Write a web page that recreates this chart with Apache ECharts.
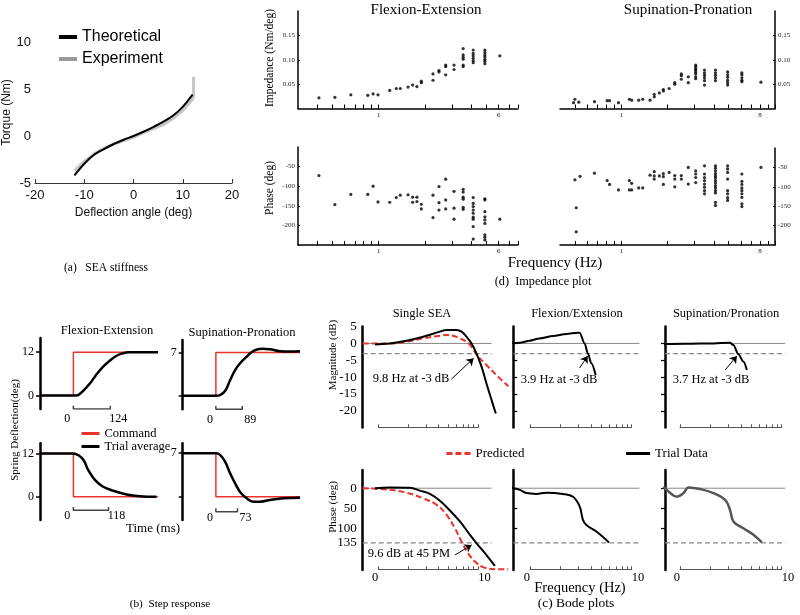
<!DOCTYPE html>
<html>
<head>
<meta charset="utf-8">
<script src="https://cdn.jsdelivr.net/npm/echarts@6.0.0/dist/echarts.min.js"></script>
<style>
html, body { margin: 0; padding: 0; background: #fff; }
#chart { width: 800px; height: 615px; }
</style>
</head>
<body>
<div id="chart"></div>
<script>
const SERIF = "'Liberation Serif','Times New Roman',serif";
const SANS = "'Liberation Sans',Arial,sans-serif";
const RED = '#e8342c';

// ---------- (a) SEA stiffness ----------
const stiffAngle = [-12, -10, -8, -6, -4, -2, 0, 2, 4, 6, 8, 10, 12];
const torqueTheory = [-4.2, -2.95, -2.0, -1.4, -0.85, -0.4, 0, 0.45, 0.95, 1.5, 2.15, 3.1, 4.4];
const expAngle = [-12, -10, -8, -6, -4, -2, 0, 2, 4, 6, 8, 10, 12, 12.2, 12.2];
const torqueExp = [-3.7, -2.7, -1.9, -1.3, -0.85, -0.5, -0.15, 0.35, 0.75, 1.2, 1.85, 2.7, 3.9, 4.2, 6.3];

// ---------- (d) impedance plot, [Hz, value] ----------
const feImpedance = [
  [0.41, 0.022], [0.52, 0.023], [0.66, 0.028], [0.85, 0.027], [0.92, 0.030], [0.99, 0.028],
  [1.18, 0.037], [1.30, 0.041], [1.38, 0.041], [1.55, 0.044], [1.66, 0.048], [1.77, 0.045],
  [1.89, 0.053], [1.89, 0.056], [2.25, 0.058], [2.25, 0.071], [2.46, 0.075], [2.46, 0.078],
  [2.72, 0.069], [2.72, 0.086], [2.72, 0.089], [3.08, 0.080], [3.08, 0.089],
  [3.53, 0.123], [3.53, 0.110], [3.53, 0.105], [3.53, 0.101], [3.53, 0.089], [3.53, 0.086],
  [4.10, 0.120], [4.10, 0.113], [4.10, 0.108], [4.10, 0.103], [4.10, 0.098], [4.10, 0.094],
  [4.88, 0.120], [4.88, 0.115], [4.88, 0.110], [4.88, 0.106], [4.88, 0.101], [4.88, 0.097], [4.88, 0.092],
  [6.10, 0.108]
];
const fePhaseImp = [
  [0.41, -73], [0.52, -147], [0.66, -121], [0.85, -121], [0.92, -100], [0.99, -140],
  [1.18, -141], [1.30, -129], [1.38, -123], [1.55, -122], [1.66, -141], [1.66, -128],
  [1.77, -128], [1.77, -139], [1.89, -146], [1.89, -158], [2.25, -123], [2.25, -180],
  [2.46, -101], [2.46, -142], [2.46, -161], [2.72, -82], [2.72, -135], [2.72, -158],
  [3.08, -113], [3.08, -156], [3.08, -184],
  [3.53, -108], [3.53, -115], [3.53, -128], [3.53, -133], [3.53, -154], [3.53, -159],
  [4.10, -129], [4.10, -144], [4.10, -152], [4.10, -161], [4.10, -169], [4.10, -179], [4.10, -184], [4.10, -203], [4.10, -235],
  [4.88, -132], [4.88, -135], [4.88, -165], [4.88, -178], [4.88, -186], [4.88, -195], [4.88, -224], [4.88, -230], [4.88, -237],
  [6.10, -184]
];
const spImpedance = [
  [0.50, 0.019], [0.49, 0.012], [0.53, 0.013], [0.67, 0.014], [0.81, 0.016], [0.84, 0.016],
  [0.96, 0.012], [1.13, 0.019], [1.17, 0.017], [1.30, 0.017], [1.38, 0.019], [1.54, 0.017],
  [1.64, 0.024], [1.64, 0.029], [1.77, 0.032], [1.88, 0.036], [1.88, 0.039], [2.05, 0.041],
  [2.23, 0.050], [2.23, 0.053], [2.46, 0.060], [2.46, 0.067], [2.46, 0.071], [2.73, 0.053], [2.73, 0.065],
  [3.05, 0.089], [3.05, 0.086], [3.05, 0.082], [3.05, 0.079], [3.05, 0.075], [3.05, 0.071], [3.05, 0.065], [3.05, 0.061],
  [3.48, 0.079], [3.48, 0.073], [3.48, 0.068], [3.48, 0.063], [3.48, 0.057], [3.48, 0.048],
  [4.10, 0.079], [4.10, 0.073], [4.10, 0.068], [4.10, 0.063], [4.10, 0.057],
  [4.92, 0.075], [4.92, 0.069], [4.92, 0.064], [4.92, 0.058], [4.92, 0.053], [4.92, 0.048],
  [6.09, 0.073], [6.09, 0.069], [6.09, 0.063], [6.09, 0.058], [6.09, 0.055],
  [8.10, 0.054]
];
const spPhaseImp = [
  [0.50, -82], [0.54, -73], [0.51, -154], [0.51, -216], [0.67, -65], [0.81, -84], [0.84, -94],
  [0.96, -108], [1.13, -84], [1.13, -108], [1.17, -91], [1.17, -108], [1.30, -103], [1.38, -103],
  [1.54, -70], [1.64, -61], [1.64, -72], [1.64, -80], [1.77, -72], [1.88, -66], [1.88, -74], [1.88, -94],
  [2.05, -63], [2.23, -71], [2.23, -80], [2.23, -100], [2.46, -71], [2.46, -80], [2.73, -50], [2.73, -93],
  [3.05, -59], [3.05, -67], [3.05, -76], [3.05, -89],
  [3.48, -46], [3.48, -67], [3.48, -76], [3.48, -84], [3.48, -93], [3.48, -101], [3.48, -110], [3.48, -118],
  [4.10, -46], [4.10, -52], [4.10, -59], [4.10, -66], [4.10, -72], [4.10, -77], [4.10, -84], [4.10, -90],
  [4.10, -97], [4.10, -103], [4.10, -110], [4.10, -116], [4.10, -140], [4.10, -148],
  [4.92, -46], [4.92, -54], [4.92, -63], [4.92, -80], [4.92, -110], [4.92, -118], [4.92, -128], [4.92, -135],
  [6.09, -67], [6.09, -86], [6.09, -94], [6.09, -103], [6.09, -110], [6.09, -118], [6.09, -127], [6.09, -144], [6.09, -151],
  [8.10, -50]
];
const feFreqTicks = [0.4, 0.5, 0.6, 0.7, 0.8, 0.9, 1, 2, 3, 4, 5, 6, 7, 8];
const feFreqLabels = [1, 6];
const spFreqTicks = [0.5, 0.6, 0.7, 0.8, 0.9, 1, 2, 3, 4, 5, 6, 7, 8, 9, 10];
const spFreqLabels = [1, 8];
const impTicks = [0.05, 0.10, 0.15];
const impPhaseTicks = [-200, -150, -100, -50];

// ---------- (b) step response (time in ms, deflection in deg) ----------
const cmdTime = [-112, 0, 0, 284];
const feUpCmd = [0, 0, 12, 12];
const spUpCmd = [0, 0, 7, 7];
const feDownCmd = [12, 12, 0, 0];
const spDownCmd = [7, 7, 0, 0];
const feUpTime = [-112, 0, 10, 17, 33, 56, 78, 100, 123, 145, 167, 185, 284];
const feUpDefl = [0, 0, 0.05, 0.2, 1.3, 3.4, 5.9, 8.0, 9.7, 11.0, 11.7, 12, 12];
const spUpTime = [-112, 0, 14, 31, 48, 65, 81, 104, 127, 155, 183, 217, 251, 284];
const spUpDefl = [0, 0, 0.1, 0.75, 2.5, 4.15, 5.2, 6.3, 7.25, 7.6, 7.5, 7.2, 7.15, 7.2];
const feDownTime = [-112, 0, 17, 34, 50, 73, 100, 134, 179, 223, 279];
const feDownDefl = [12, 12, 11.5, 10.2, 7.4, 4.6, 2.8, 1.7, 0.65, 0.18, 0];
const spDownTime = [-112, 0, 14, 31, 48, 65, 81, 104, 127, 149, 183, 228, 284];
const spDownDefl = [7, 7, 6.73, 5.65, 3.77, 2.15, 0.81, -0.27, -0.81, -0.81, -0.54, -0.27, -0.16];
const riseTimes = [124, 89, 118, 73];

// ---------- (c) Bode plots ----------
const seaTrialFreq = [0.93, 1.31, 1.92, 2.82, 4.14, 4.83, 6.08, 6.82, 7.65, 8.58, 9.63, 10.8, 12.1, 13.6, 15.0];
const seaTrialMag = [-0.3, 0, 0.8, 2.0, 3.5, 4.0, 4.0, 3.5, 2.0, 0, -3.0, -6.9, -11.9, -16.8, -20.8];
const seaPredFreq = [0.70, 1.31, 1.92, 2.82, 4.14, 4.83, 5.62, 6.56, 7.65, 8.58, 9.63, 12.1, 15.2, 20];
const seaPredMag = [0, 0, 0.5, 1.5, 2.3, 2.5, 2.3, 1.5, 0.5, -1.0, -3.3, -6.4, -9.4, -12.7];
const feMagFreq = [0.49, 0.59, 0.685, 0.80, 1.0, 1.25, 1.70, 2.29, 2.99, 3.10, 3.47, 3.74, 4.04, 4.46];
const feMag = [-0.1, 0, 0.1, 0.2, 0.8, 1.5, 2.2, 2.8, 3.2, 3.2, 0, -3, -5.9, -9.4];
const spMagFreq = [0.685, 1.16, 2.12, 3.10, 3.34, 3.74, 4.19, 4.53];
const spMag = [-0.2, -0.1, 0, 0.2, -0.5, -3.2, -5.4, -7.9];

const seaPhaseFreq = [0.93, 1.31, 2.07, 2.61, 3.29, 4.14, 5.21, 6.56, 8.26, 9.63, 12.1, 14.7];
const seaPhase = [0, -2, -1, 6, 14, 31, 55, 82, 115, 136, 165, 192];
const seaPredPhaseFreq = [0.70, 1.31, 1.92, 2.82, 3.84, 4.83, 5.85, 6.82, 7.94, 9.27, 11.2, 14.7, 20];
const seaPredPhase = [0, 4, 11, 25, 41, 66, 99, 132, 161, 181, 195, 200, 200];
const fePhaseFreq = [0.49, 0.61, 0.685, 0.80, 0.93, 1.16, 1.46, 2.12, 2.67, 3.10, 3.34, 3.61, 4.53, 6.02];
const fePhase = [-6, -4, 0, 4, 12, 14, 11, 14, 21, 45, 78, 91, 107, 134];
const spPhaseFreq = [0.685, 0.80, 0.93, 1.08, 1.21, 1.57, 2.12, 2.77, 3.10, 3.34, 4.19, 5.26, 6.36];
const spPhase = [-4, 12, 21, 12, -2, 2, 12, 29, 54, 82, 99, 115, 134];

const magRef = [0, -3];
const phaseRef = [0, 135];
const magTicks = [5, 0, -5, -10, -15, -20];
const phaseTicks = [0, 50, 100, 135];
const bracketFreq = [1, 2, 3, 4, 5, 6, 7, 8, 9, 10];
const bracketLabels = ['0', '10'];
const cutoffText = ['9.8 Hz at -3 dB', '3.9 Hz at -3 dB', '3.7 Hz at -3 dB', '9.6 dB at 45 PM'];
const cutoffArrows = [
  [[5.4, -10.6], [9.0, -4.4]],
  [[3.1, -7.3], [3.72, -3.7]],
  [[2.77, -7.9], [3.62, -3.7]],
  [[5.85, 165], [8.6, 140]]
];

// ---------- helpers ----------
const grids = [], xAxes = [], yAxes = [], series = [];
const zip = (xs, ys) => xs.map((x, i) => [x, ys[i]]);
function fixAxis(gi, a) {
  a.gridIndex = gi;
  a.splitLine = { show: false };
  a.axisLine = Object.assign({ onZero: false }, a.axisLine || {});
  return a;
}
function addGrid(rect, xa, ya) {
  const i = grids.length;
  grids.push(Object.assign({ containLabel: false, outerBoundsMode: 'none' }, rect));
  xAxes.push(fixAxis(i, xa));
  yAxes.push(fixAxis(i, ya));
  return i;
}
function addLine(gi, name, data, lineStyle, extra) {
  series.push(Object.assign({
    type: 'line', name: name, xAxisIndex: gi, yAxisIndex: gi, data: data,
    symbol: 'none', silent: true, lineStyle: lineStyle, itemStyle: { color: lineStyle.color }
  }, extra || {}));
}
function addDots(gi, data) {
  series.push({
    type: 'scatter', xAxisIndex: gi, yAxisIndex: gi, data: data, symbolSize: 3.2,
    itemStyle: { color: '#000' }, silent: true
  });
}
function arrow(pair, curve) {
  return {
    silent: true, symbol: ['none', 'arrow'], symbolSize: 7, label: { show: false },
    lineStyle: { color: '#000', width: 1, type: 'solid', curveness: curve },
    data: [[{ coord: pair[0] }, { coord: pair[1] }]]
  };
}

// ---------- (a) ----------
const gA = addGrid({ left: 35, top: 42, width: 197, height: 141 },
  {
    type: 'value', min: -20, max: 20, interval: 10,
    axisLine: { lineStyle: { color: '#333', width: 1 } },
    axisTick: { inside: true, length: 4, lineStyle: { color: '#333' } },
    axisLabel: { fontFamily: SANS, fontSize: 13, color: '#111', margin: 6 },
    name: 'Deflection angle (deg)', nameLocation: 'middle', nameGap: 24,
    nameTextStyle: { fontFamily: SANS, fontSize: 12, color: '#111' }
  },
  {
    type: 'value', min: -5, max: 10, interval: 5,
    axisLine: { show: false }, axisTick: { show: false },
    axisLabel: { fontFamily: SANS, fontSize: 13, color: '#111', margin: 4 },
    name: 'Torque (Nm)', nameLocation: 'middle', nameGap: 15,
    nameTextStyle: { fontFamily: SANS, fontSize: 12, color: '#111' }
  });
addLine(gA, 'Experiment', zip(expAngle, torqueExp), { color: '#c6c6c6', width: 3 });
addLine(gA, 'Theoretical', zip(stiffAngle, torqueTheory), { color: '#000', width: 2 }, { smooth: 0.3 });

// ---------- (d) ----------
const dLine = { lineStyle: { color: '#000', width: 1.5 } };
const dLabel = { fontFamily: SERIF, fontSize: 7, color: '#222' };
function impX(min, max, ticks, labels) {
  return {
    type: 'log', logBase: 10, min: min, max: max, axisLine: dLine,
    axisTick: { inside: true, length: 4, customValues: ticks, lineStyle: { color: '#000', width: 1 } },
    axisLabel: Object.assign({ customValues: labels, margin: 3 }, dLabel)
  };
}
function impY(min, max, ticks, fmt, pos) {
  return {
    type: 'value', min: min, max: max, position: pos, axisLine: dLine,
    axisTick: { inside: true, length: 2, customValues: ticks, lineStyle: { color: '#000' } },
    axisLabel: Object.assign({ customValues: ticks, margin: 3, formatter: fmt }, dLabel)
  };
}
const fmtImp = v => v.toFixed(2);
const fmtInt = v => String(Math.round(v));
const gD1 = addGrid({ left: 298, top: 11, width: 220, height: 97.5 },
  impX(0.3, 8, feFreqTicks, feFreqLabels), impY(0, 0.2, impTicks, fmtImp, 'left'));
const gD2 = addGrid({ left: 560, top: 11, width: 215, height: 97.5 },
  impX(0.4, 10, spFreqTicks, spFreqLabels), impY(0, 0.2, impTicks, fmtImp, 'right'));
const gD3 = addGrid({ left: 298, top: 147, width: 220, height: 98 },
  impX(0.3, 8, feFreqTicks, feFreqLabels), impY(-250, 0, impPhaseTicks, fmtInt, 'left'));
const gD4 = addGrid({ left: 560, top: 148, width: 215, height: 97 },
  impX(0.4, 10, spFreqTicks, spFreqLabels), impY(-250, 0, impPhaseTicks, fmtInt, 'right'));
addDots(gD1, feImpedance);
addDots(gD2, spImpedance);
addDots(gD3, fePhaseImp);
addDots(gD4, spPhaseImp);

// ---------- (b) ----------
function stepGrid(rect, ymin, ymax, ticks, labels) {
  return addGrid(rect,
    { type: 'value', min: -112, max: 284, show: false },
    {
      type: 'value', min: ymin, max: ymax,
      axisLine: { lineStyle: { color: '#000', width: 2.5 } },
      axisTick: { length: 4, customValues: ticks, lineStyle: { color: '#000', width: 1.5 } },
      axisLabel: { customValues: labels, fontFamily: SERIF, fontSize: 12, color: '#000', margin: 6 }
    });
}
function addBracket(gi, t, yb, h, dist) {
  const lab = (txt, dx) => ({
    show: true, position: 'bottom', distance: dist, offset: [dx, 0], formatter: txt,
    fontFamily: SERIF, fontSize: 12, color: '#000'
  });
  series.push({
    type: 'line', xAxisIndex: gi, yAxisIndex: gi, silent: true,
    symbol: 'circle', symbolSize: 0.1, showSymbol: true,
    itemStyle: { color: 'rgba(0,0,0,0)' }, lineStyle: { color: '#444', width: 1.5 },
    data: [[0, yb + h], { value: [0, yb], label: lab('0', -6) },
      { value: [t, yb], label: lab(String(t), 8) }, [t, yb + h]]
  });
}
const gB1 = stepGrid({ left: 40, top: 338, width: 118, height: 71 }, -3.7, 15.9, [0, 12], [0, 12]);
const gB2 = stepGrid({ left: 182.7, top: 340, width: 117.3, height: 69.3 }, -2.2, 9, [0, 7], [7]);
const gB3 = stepGrid({ left: 40, top: 443.3, width: 118, height: 76.7 }, -6.4, 14.8, [0, 12], [0, 12]);
const gB4 = stepGrid({ left: 182.7, top: 443.3, width: 117.3, height: 76.7 }, -3.76, 8.6, [0, 7], [7]);
const cmdStyle = { color: RED, width: 1.5 };
const avgStyle = { color: '#000', width: 2.5 };
addLine(gB1, 'Command', zip(cmdTime, feUpCmd), cmdStyle);
addLine(gB1, 'Trial average', zip(feUpTime, feUpDefl), avgStyle, { smooth: 0.4 });
addLine(gB2, 'Command', zip(cmdTime, spUpCmd), cmdStyle);
addLine(gB2, 'Trial average', zip(spUpTime, spUpDefl), avgStyle, { smooth: 0.4 });
addLine(gB3, 'Command', zip(cmdTime, feDownCmd), cmdStyle);
addLine(gB3, 'Trial average', zip(feDownTime, feDownDefl), avgStyle, { smooth: 0.4 });
addLine(gB4, 'Command', zip(cmdTime, spDownCmd), cmdStyle);
addLine(gB4, 'Trial average', zip(spDownTime, spDownDefl), avgStyle, { smooth: 0.4 });
addBracket(gB1, riseTimes[0], -3.7, 0.9, 4);
addBracket(gB2, riseTimes[1], -2.2, 0.55, 4);
addBracket(gB3, riseTimes[2], -3.7, 0.9, 0);
addBracket(gB4, riseTimes[3], -2.42, 0.55, 0);

// ---------- (c) ----------
const bodeCols = [
  { left: 362.7, width: 145.6, min: 0.7, max: 20, refEnd: 13.6, bLeft: 378.3, bWidth: 100 },
  { left: 513.3, width: 126.1, min: 0.69, max: 12, refEnd: 12, bLeft: 530, bWidth: 101.7 },
  { left: 665, width: 120.2, min: 0.71, max: 10.8, refEnd: 10.8, bLeft: 680, bWidth: 101.7 }
];
function bodeY(min, max, inverse, ticks, labels, inside) {
  return {
    type: 'value', min: min, max: max, inverse: inverse,
    axisLine: { lineStyle: { color: '#000', width: 2.5 } },
    axisTick: ticks ? { inside: inside, length: 4, customValues: ticks, lineStyle: { color: '#000', width: 1.2 } } : { show: false },
    axisLabel: labels ? { customValues: labels, fontFamily: SERIF, fontSize: 13, color: '#000', margin: 6 } : { show: false }
  };
}
const magGrid = [], phaseGrid = [];
bodeCols.forEach((c, k) => {
  const xa = () => ({ type: 'log', logBase: 10, min: c.min, max: c.max, show: false });
  magGrid.push(addGrid({ left: c.left, top: 326.6, width: c.width, height: 101 }, xa(),
    k === 0 ? bodeY(-25, 5, false, null, magTicks) : bodeY(-25, 5, false, magTicks.slice(1), null, k === 1)));
  phaseGrid.push(addGrid({ left: c.left, top: 470, width: c.width, height: 100 }, xa(),
    k === 0 ? bodeY(-45, 202, true, null, phaseTicks) : bodeY(-45, 202, true, phaseTicks.slice(0, 3), null, k === 1)));
  // frequency brackets under each plot
  [427.3, 569.3].forEach((yb, j) => {
    addGrid({ left: c.bLeft, top: yb - 10, width: c.bWidth, height: 10 },
      {
        type: 'log', logBase: 10, min: 1, max: 10,
        axisLine: { lineStyle: { color: '#555', width: 1 } },
        axisTick: { inside: true, length: 3, customValues: bracketFreq, lineStyle: { color: '#555' } },
        axisLabel: j === 1 ? {
          customValues: [bracketFreq[0], bracketFreq[bracketFreq.length - 1]],
          formatter: v => (v < 3 ? bracketLabels[0] : bracketLabels[1]),
          alignMinLabel: 'right', alignMaxLabel: 'left',
          fontFamily: SERIF, fontSize: 12.5, color: '#000', margin: 2
        } : { show: false }
      },
      { type: 'value', show: false, min: 0, max: 1 });
  });
  // reference lines: 0 dB / -3 dB and 0 / 135 deg
  addLine(magGrid[k], '', [[c.min, magRef[0]], [c.refEnd, magRef[0]]], { color: '#888', width: 1 });
  addLine(magGrid[k], '', [[c.min, magRef[1]], [c.refEnd, magRef[1]]], { color: '#888', width: 1.2, type: [5, 3] });
  addLine(phaseGrid[k], '', [[c.min, phaseRef[0]], [c.refEnd, phaseRef[0]]], { color: '#888', width: 1 });
  addLine(phaseGrid[k], '', [[c.min, phaseRef[1]], [c.refEnd, phaseRef[1]]], { color: '#888', width: 1.2, type: [5, 3] });
});
const predStyle = { color: RED, width: 2, type: [6, 3] };
const trialStyle = { color: '#000', width: 2 };
addLine(magGrid[0], 'Predicted', zip(seaPredFreq, seaPredMag), predStyle, { smooth: 0.4 });
addLine(magGrid[0], 'Trial Data', zip(seaTrialFreq, seaTrialMag), trialStyle, { smooth: 0.4, markLine: arrow(cutoffArrows[0], -0.4) });
addLine(magGrid[1], 'Trial Data', zip(feMagFreq, feMag), trialStyle, { smooth: 0.3, smoothMonotone: 'x', clip: false, markLine: arrow(cutoffArrows[1], 0.3) });
addLine(magGrid[2], 'Trial Data', zip(spMagFreq, spMag), trialStyle, { smooth: 0.3, smoothMonotone: 'x', markLine: arrow(cutoffArrows[2], 0.3) });
addLine(phaseGrid[0], 'Predicted', zip(seaPredPhaseFreq, seaPredPhase), predStyle, { smooth: 0.4 });
addLine(phaseGrid[0], 'Trial Data', zip(seaPhaseFreq, seaPhase), trialStyle, { smooth: 0.4, markLine: arrow(cutoffArrows[3], -0.4) });
addLine(phaseGrid[1], 'Trial Data', zip(fePhaseFreq, fePhase), trialStyle, { smooth: 0.4, clip: false });
addLine(phaseGrid[2], 'Trial Data', zip(spPhaseFreq, spPhase), { color: '#555', width: 2.5 }, { smooth: 0.4 });

// ---------- text ----------
function T(text, x, y, size, opts) {
  return Object.assign({
    type: 'text', x: x, y: y, silent: true,
    style: {
      text: text, fontFamily: (opts && opts.family) || SERIF, fontSize: size, fill: '#000',
      align: 'center', verticalAlign: 'middle', textAlign: 'center', textVerticalAlign: 'middle'
    }
  }, opts && opts.rot ? { rotation: Math.PI / 2 } : {});
}
const graphic = [
  T('(a)   SEA stiffness', 106, 268, 11.5),
  T('Flexion-Extension', 426, 10, 15),
  T('Supination-Pronation', 688, 10, 15),
  T('Impedance (Nm/deg)', 270, 58, 11.5, { rot: true }),
  T('Phase (deg)', 270, 188, 11.5, { rot: true }),
  T('Frequency (Hz)', 555, 263, 15),
  T('(d)  Impedance plot', 543, 282, 12.3),
  T('Flexion-Extension', 107, 331, 12.5),
  T('Supination-Pronation', 242, 333, 12.5),
  T('Spring Deflection(deg)', 15, 430, 11, { rot: true }),
  T('Time (ms)', 153, 529, 13),
  T('(b)  Step response', 170, 604, 11.2),
  T('Single SEA', 422, 314, 12.5),
  T('Flexion/Extension', 577, 314, 12.5),
  T('Supination/Pronation', 726, 314, 12.5),
  T('Magnitude (dB)', 333, 355, 11, { rot: true }),
  T('Phase (deg)', 333, 507, 11, { rot: true }),
  T(cutoffText[0], 411, 379, 12.5),
  T(cutoffText[1], 559, 380, 12.5),
  T(cutoffText[2], 711, 380, 12.5),
  T(cutoffText[3], 409, 554, 12.5),
  T('Frequency (Hz)', 580, 588, 14.5),
  T('(c) Bode plots', 576, 603, 13.5)
];

// legend icons: line only, no symbol dot
const noDot = { color: 'rgba(0,0,0,0)', borderWidth: 0, opacity: 0 };
const option = {
  animation: false,
  backgroundColor: '#fff',
  grid: grids,
  xAxis: xAxes,
  yAxis: yAxes,
  series: series,
  graphic: graphic,
  legend: [
    {
      left: 52, top: 24, orient: 'vertical', itemWidth: 18, itemHeight: 14, itemGap: 6,
      selectedMode: false, lineStyle: { width: 4 }, itemStyle: noDot,
      textStyle: { fontFamily: SANS, fontSize: 16, color: '#000' },
      data: ['Theoretical', { name: 'Experiment', lineStyle: { color: '#999' } }]
    },
    {
      left: 75, top: 422, orient: 'vertical', itemWidth: 18, itemHeight: 10, itemGap: 0,
      selectedMode: false, lineStyle: { width: 3 }, itemStyle: noDot,
      textStyle: { fontFamily: SERIF, fontSize: 12.5, color: '#000', lineHeight: 12 },
      data: ['Command', 'Trial average']
    },
    {
      left: 440, top: 442, orient: 'horizontal', itemWidth: 24, itemHeight: 10, itemGap: 100,
      selectedMode: false, lineStyle: { width: 3 }, itemStyle: noDot,
      textStyle: { fontFamily: SERIF, fontSize: 13, color: '#000' },
      data: ['Predicted', 'Trial Data']
    }
  ]
};

const myChart = echarts.init(document.getElementById('chart'), null, { renderer: 'canvas' });
myChart.setOption(option);
</script>
</body>
</html>
